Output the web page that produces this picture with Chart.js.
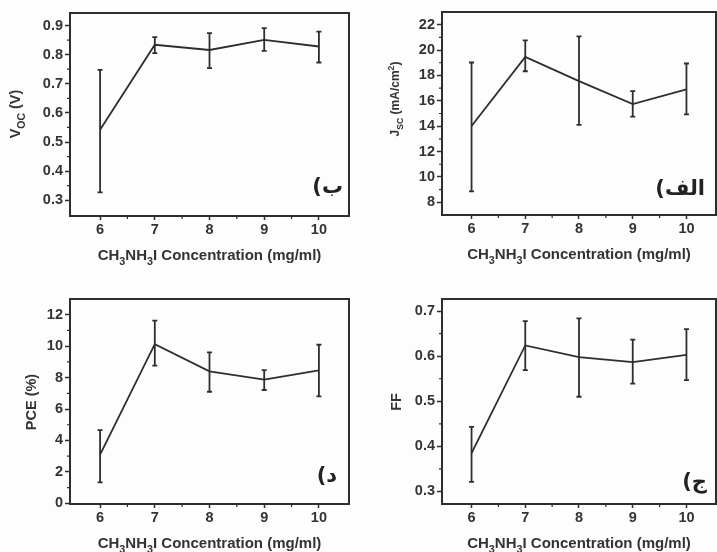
<!DOCTYPE html>
<html>
<head>
<meta charset="utf-8">
<script src="https://cdn.jsdelivr.net/npm/chart.js@4.4.0/dist/chart.umd.min.js"></script>
<style>
  html, body { margin: 0; padding: 0; background: #fdfdfd; }
  #wrap { position: relative; width: 717px; height: 552px; overflow: hidden; }
  canvas { position: absolute; }
</style>
</head>
<body>
<div id="wrap">
  <canvas id="voc" width="358" height="276" style="left:0;top:0"></canvas>
  <canvas id="jsc" width="359" height="276" style="left:358px;top:0"></canvas>
  <canvas id="pce" width="358" height="276" style="left:0;top:276px"></canvas>
  <canvas id="ff" width="359" height="276" style="left:358px;top:276px"></canvas>
</div>
<script>
// concentration of CH3NH3I (mg/ml)
const concentration = [6, 7, 8, 9, 10];
const xTicks = [6, 7, 8, 9, 10];
const xMinor = [6.5, 7.5, 8.5, 9.5];

// Voc (V)
const vocMean = [0.542, 0.834, 0.816, 0.851, 0.828];
const vocLow  = [0.327, 0.805, 0.754, 0.813, 0.773];
const vocHigh = [0.748, 0.860, 0.874, 0.891, 0.879];
const vocTicks = [0.3, 0.4, 0.5, 0.6, 0.7, 0.8, 0.9];
const vocMinor = [0.35, 0.45, 0.55, 0.65, 0.75, 0.85];

// Jsc (mA/cm2)
const jscMean = [14.02, 19.46, 17.55, 15.74, 16.9];
const jscLow  = [8.86, 18.33, 14.1, 14.75, 14.93];
const jscHigh = [19.02, 20.77, 21.08, 16.76, 18.94];
const jscTicks = [8, 10, 12, 14, 16, 18, 20, 22];
const jscMinor = [9, 11, 13, 15, 17, 19, 21];

// PCE (%)
const pceMean = [3.10, 10.13, 8.40, 7.87, 8.46];
const pceLow  = [1.34, 8.76, 7.10, 7.21, 6.81];
const pceHigh = [4.66, 11.62, 9.60, 8.48, 10.09];
const pceTicks = [0, 2, 4, 6, 8, 10, 12];
const pceMinor = [1, 3, 5, 7, 9, 11];

// FF
const ffMean = [0.385, 0.624, 0.598, 0.587, 0.603];
const ffLow  = [0.321, 0.569, 0.510, 0.539, 0.547];
const ffHigh = [0.443, 0.678, 0.684, 0.637, 0.660];
const ffTicks = [0.3, 0.4, 0.5, 0.6, 0.7];
const ffMinor = [0.35, 0.45, 0.55, 0.65];

const ink = '#2e2e2e';
const textColor = '#333333';
const fontFamily = '"Liberation Sans", Arial, sans-serif';
const xTitle = [['CH'], ['3', 'sub'], ['NH'], ['3', 'sub'], ['I Concentration (mg/ml)']];

function drawRich(ctx, parts, cx, cy, size) {
  const fontOf = p => 'bold ' + (p[1] ? size * 0.72 : size) + 'px ' + fontFamily;
  let total = 0;
  parts.forEach(p => { ctx.font = fontOf(p); total += ctx.measureText(p[0]).width; });
  let x = cx - total / 2;
  const base = cy + size * 0.36;
  ctx.textAlign = 'left';
  ctx.textBaseline = 'alphabetic';
  parts.forEach(p => {
    ctx.font = fontOf(p);
    let dy = 0;
    if (p[1] === 'sub') dy = size * 0.32;
    if (p[1] === 'sup') dy = -size * 0.45;
    ctx.fillText(p[0], x, base + dy);
    x += ctx.measureText(p[0]).width;
  });
}

// error bars, minor ticks, frame, axis titles and panel letter
const panelDecor = {
  id: 'panelDecor',
  afterDraw(chart, args, opts) {
    const ctx = chart.ctx;
    const area = chart.chartArea;
    const xs = chart.scales.x, ys = chart.scales.y;
    ctx.save();
    ctx.strokeStyle = ink;
    ctx.fillStyle = textColor;

    // frame top and right
    ctx.lineWidth = 2;
    ctx.beginPath();
    ctx.moveTo(area.left, area.top);
    ctx.lineTo(area.right, area.top);
    ctx.lineTo(area.right, area.bottom);
    ctx.stroke();

    // minor ticks
    ctx.lineWidth = 1.2;
    ctx.beginPath();
    xMinor.forEach(v => {
      const px = xs.getPixelForValue(v);
      ctx.moveTo(px, area.bottom);
      ctx.lineTo(px, area.bottom + 3);
    });
    opts.yMinor.forEach(v => {
      const py = ys.getPixelForValue(v);
      ctx.moveTo(area.left, py);
      ctx.lineTo(area.left - 3, py);
    });
    ctx.stroke();

    // error bars
    ctx.lineWidth = 1.8;
    ctx.beginPath();
    concentration.forEach((c, i) => {
      const px = xs.getPixelForValue(c);
      const lo = ys.getPixelForValue(opts.low[i]);
      const hi = ys.getPixelForValue(opts.high[i]);
      ctx.moveTo(px, lo); ctx.lineTo(px, hi);
      ctx.moveTo(px - 2.5, lo); ctx.lineTo(px + 2.5, lo);
      ctx.moveTo(px - 2.5, hi); ctx.lineTo(px + 2.5, hi);
    });
    ctx.stroke();

    // axis titles
    drawRich(ctx, xTitle, (area.left + area.right) / 2, area.bottom + 39, 15);
    ctx.save();
    ctx.translate(opts.yTitleX, opts.yTitleY);
    ctx.rotate(-Math.PI / 2);
    drawRich(ctx, opts.yTitle, 0, 0, opts.yTitleSize);
    ctx.restore();

    // panel letter
    ctx.font = 'bold 21px "DejaVu Sans", sans-serif';
    ctx.direction = 'rtl';
    ctx.textAlign = 'right';
    ctx.textBaseline = 'middle';
    ctx.fillStyle = '#222';
    ctx.fillText(opts.letter, opts.letterX, opts.letterY);
    ctx.restore();
  }
};

function makePanel(id, cfg) {
  const tickFont = { family: fontFamily, size: 14.5, weight: 'bold' };
  new Chart(document.getElementById(id), {
    type: 'line',
    data: {
      datasets: [{
        data: concentration.map((c, i) => ({ x: c, y: cfg.mean[i] })),
        borderColor: ink,
        borderWidth: 1.8,
        pointRadius: 0,
        tension: 0
      }]
    },
    options: {
      responsive: false,
      animation: false,
      layout: { padding: { top: cfg.padTop, right: cfg.padRight, left: 0, bottom: 0 } },
      plugins: {
        legend: { display: false },
        tooltip: { enabled: false },
        panelDecor: cfg.decor
      },
      scales: {
        x: {
          type: 'linear',
          min: 5.45,
          max: 10.55,
          afterBuildTicks: s => { s.ticks = xTicks.map(v => ({ value: v })); },
          afterFit: s => { s.height = cfg.xAxisH; },
          grid: { drawOnChartArea: false, tickLength: 4, tickColor: ink, tickWidth: 1.5 },
          border: { color: ink, width: 2 },
          ticks: { font: tickFont, color: textColor, padding: 1, maxRotation: 0 }
        },
        y: {
          type: 'linear',
          min: cfg.yMin,
          max: cfg.yMax,
          afterBuildTicks: s => { s.ticks = cfg.yTicks.map(v => ({ value: v })); },
          afterFit: s => { s.width = cfg.yAxisW; },
          grid: { drawOnChartArea: false, tickLength: 5, tickColor: ink, tickWidth: 1.5 },
          border: { color: ink, width: 2 },
          ticks: {
            font: tickFont,
            color: textColor,
            padding: 2,
            callback: v => v.toFixed(cfg.decimals)
          }
        }
      }
    },
    plugins: [panelDecor]
  });
}

makePanel('voc', {
  mean: vocMean, yMin: 0.246, yMax: 0.943, yTicks: vocTicks, decimals: 1,
  padTop: 13, padRight: 9, xAxisH: 60, yAxisW: 70,
  decor: {
    low: vocLow, high: vocHigh, yMinor: vocMinor,
    yTitle: [['V'], ['OC', 'sub'], [' (V)']], yTitleX: 15, yTitleY: 114, yTitleSize: 14.5,
    letter: 'ب)', letterX: 343, letterY: 188
  }
});

makePanel('jsc', {
  mean: jscMean, yMin: 7.0, yMax: 23.0, yTicks: jscTicks, decimals: 0,
  padTop: 12, padRight: 1, xAxisH: 61, yAxisW: 84,
  decor: {
    low: jscLow, high: jscHigh, yMinor: jscMinor,
    yTitle: [['J'], ['SC', 'sub'], [' (mA/cm'], ['2', 'sup'], [')']], yTitleX: 37, yTitleY: 99, yTitleSize: 12,
    letter: 'الف)', letterX: 347, letterY: 190
  }
});

makePanel('pce', {
  mean: pceMean, yMin: -0.04, yMax: 13.0, yTicks: pceTicks, decimals: 0,
  padTop: 23, padRight: 9, xAxisH: 48, yAxisW: 70,
  decor: {
    low: pceLow, high: pceHigh, yMinor: pceMinor,
    yTitle: [['PCE (%)']], yTitleX: 31, yTitleY: 126, yTitleSize: 14.5,
    letter: 'د)', letterX: 337, letterY: 201
  }
});

makePanel('ff', {
  mean: ffMean, yMin: 0.272, yMax: 0.727, yTicks: ffTicks, decimals: 1,
  padTop: 23, padRight: 1, xAxisH: 48, yAxisW: 84,
  decor: {
    low: ffLow, high: ffHigh, yMinor: ffMinor,
    yTitle: [['FF']], yTitleX: 38, yTitleY: 126, yTitleSize: 14.5,
    letter: 'ج)', letterX: 349, letterY: 207
  }
});
</script>
</body>
</html>
